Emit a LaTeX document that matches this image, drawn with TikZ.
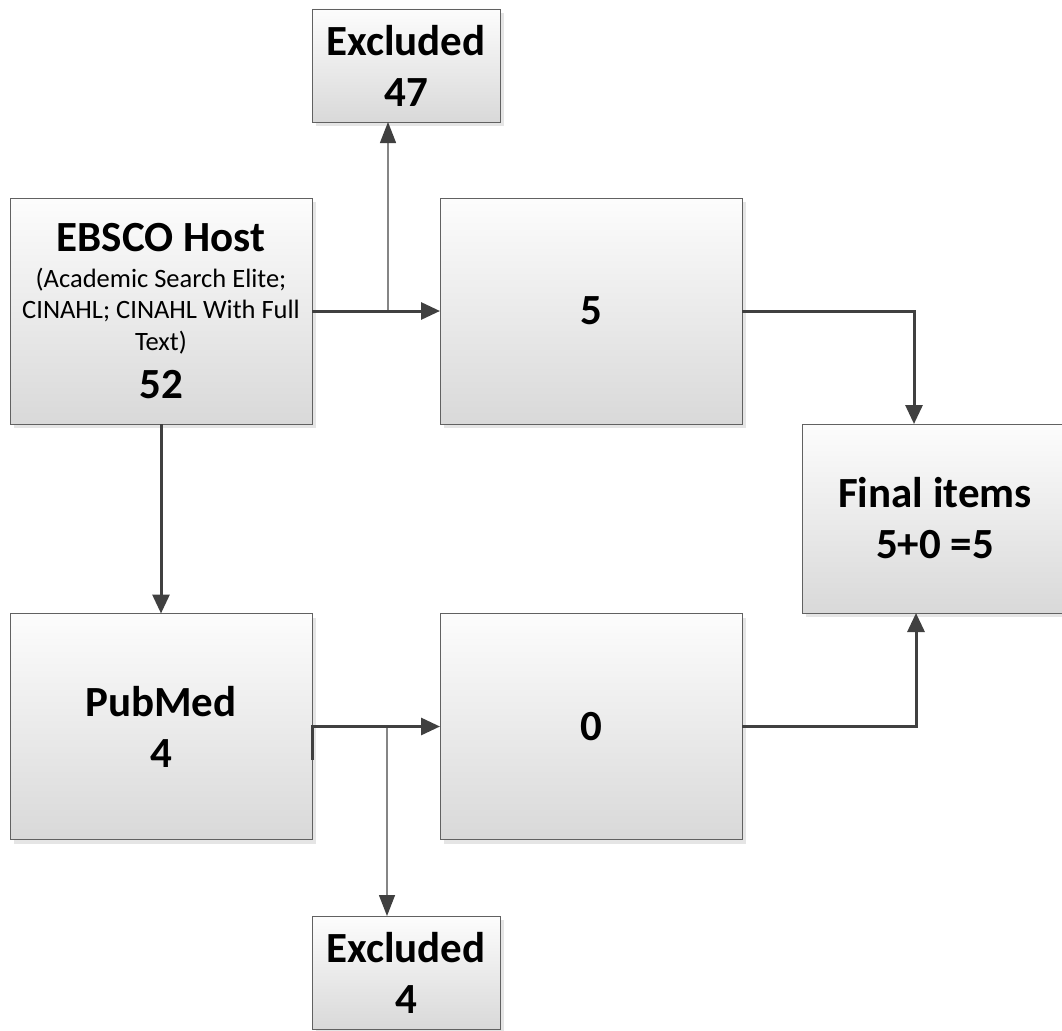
\documentclass[tikz,border=0pt]{standalone}
\usepackage{fontspec}
\setmainfont{Carlito}
\usepackage{tikz}
\usetikzlibrary{arrows.meta,positioning,calc,shadows}
\newcommand{\subtext}[1]{{\fontsize{26.5}{31}\mdseries\selectfont #1}}
\tikzset{
  flowbox/.style={draw=black!62, line width=0.9pt, top color=black!1, bottom color=black!15, drop shadow={shadow xshift=4pt, shadow yshift=-4pt, fill=black!10, opacity=1}, align=center, inner sep=0pt, outer sep=0pt, font=\fontsize{43}{51}\selectfont\bfseries},
  bigbox/.style={flowbox, minimum width=302pt, minimum height=226pt},
  exclbox/.style={flowbox, minimum width=188pt, minimum height=113pt},
  finalbox/.style={flowbox, minimum width=266pt, minimum height=189pt},
  arrow/.style={-{Triangle[length=19pt,width=17pt]}, line width=3pt, draw=black!75},
  thinarrow/.style={-{Triangle[length=21pt,width=16pt,color=black!75]}, line width=1.4pt, draw=black!48}
}
\begin{document}
\begin{tikzpicture}[x=1pt,y=-1pt]
\useasboundingbox (0,0) rectangle (1062,1030);
\node[exclbox] (excltop) at (406,65.5) {Excluded\\47};
\node[bigbox] (ebsco) at (161,311) {EBSCO Host\\[-15pt]\subtext{(Academic Search Elite;}\\[-20pt]\subtext{CINAHL; CINAHL With Full}\\[-19pt]\subtext{Text)}\\[-3pt]52};
\node[bigbox] (five) at (591,311) {5};
\node[finalbox] (final) at (935,518.5) {Final items\\5+0 =5};
\node[bigbox] (pubmed) at (161,726.5) {PubMed\\4};
\node[bigbox] (zero) at (591,726.5) {0};
\node[exclbox] (exclbot) at (406,972.5) {Excluded\\4};
\coordinate (splittop) at (388,311);
\coordinate (splitbot) at (387,726.5);
\draw[thinarrow] (splittop) -- (splittop |- excltop.south);
\draw[thinarrow] (splitbot) -- (splitbot |- exclbot.north);
\draw[arrow] (ebsco.east) -- (five.west);
\draw[arrow] (ebsco.south) -- (pubmed.north);
\draw[arrow] ([yshift=-33pt]pubmed.east) |- (zero.west);
\draw[arrow] (five.east) -| ([xshift=-21pt]final.north);
\draw[arrow] (zero.east) -| ([xshift=-19pt]final.south);
\end{tikzpicture}
\end{document}
